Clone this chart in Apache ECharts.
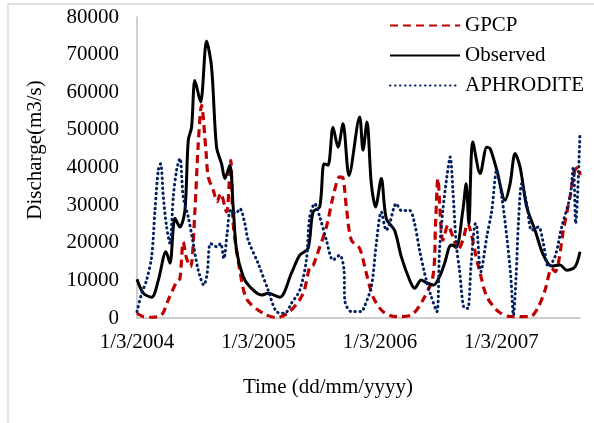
<!DOCTYPE html>
<html><head><meta charset="utf-8">
<script src="https://cdn.jsdelivr.net/npm/echarts@6/dist/echarts.min.js"></script>
<style>html,body{margin:0;padding:0;background:#fff}#c{width:594px;height:423px}</style>
</head><body><div id="c"></div>
<script>
const startDate = '2004-03-01';
const endDate = '2007-10-23';
const tickLabels = ['1/3/2004', '1/3/2005', '1/3/2006', '1/3/2007'];
const seriesNames = ['GPCP', 'Observed', 'APHRODITE'];

const obsDates = ['2004-03-01','2004-03-20','2004-04-14','2004-05-04','2004-05-27','2004-06-08','2004-06-23','2004-07-08','2004-07-23','2004-08-02','2004-08-12','2004-08-22','2004-09-08','2004-09-26','2004-10-11','2004-10-26','2004-11-10','2004-11-20','2004-12-05','2004-12-15','2004-12-25','2005-01-14','2005-02-03','2005-03-10','2005-03-30','2005-05-04','2005-06-08','2005-07-03','2005-07-28','2005-08-12','2005-09-01','2005-09-14','2005-09-26','2005-10-11','2005-10-26','2005-11-10','2005-11-28','2005-12-30','2006-01-09','2006-01-21','2006-02-03','2006-02-16','2006-03-05','2006-03-20','2006-04-14','2006-05-04','2006-05-29','2006-06-13','2006-07-03','2006-07-18','2006-08-09','2006-08-27','2006-09-11','2006-10-01','2006-10-16','2006-11-05','2006-11-15','2006-11-23','2006-12-05','2006-12-27','2007-01-16','2007-01-26','2007-02-15','2007-03-12','2007-03-27','2007-04-11','2007-04-26','2007-05-16','2007-06-10','2007-07-05','2007-07-30','2007-08-24','2007-09-13','2007-10-08','2007-10-23'];
const obsValues = [10300,6600,5500,10000,17600,14600,26500,24200,28600,47200,50700,63100,57400,73600,66700,45400,41000,37100,40600,29500,18000,11000,8300,6100,6550,5500,11900,16700,18500,28200,29500,41000,40600,50700,45400,51600,37900,53400,44600,52100,35700,29500,37100,26400,23300,16300,10100,7900,10100,9400,8750,11000,14500,19400,18900,28600,35700,25100,46800,38400,45400,45000,39300,31300,35700,43700,40100,29500,23300,16700,13800,14100,12700,13600,17600];

const gpcpDates = ['2004-03-01','2004-03-20','2004-04-14','2004-05-14','2004-06-03','2004-06-28','2004-07-08','2004-07-18','2004-07-28','2004-08-09','2004-08-22','2004-09-01','2004-09-11','2004-09-24','2004-10-01','2004-10-16','2004-10-28','2004-11-07','2004-11-25','2004-12-03','2004-12-08','2004-12-15','2005-01-04','2005-01-25','2005-03-14','2005-04-25','2005-06-03','2005-07-13','2005-08-02','2005-08-12','2005-08-22','2005-09-21','2005-10-11','2005-10-31','2005-11-10','2005-11-20','2005-12-05','2005-12-30','2006-01-19','2006-02-08','2006-03-10','2006-04-19','2006-06-03','2006-07-08','2006-08-07','2006-08-15','2006-08-22','2006-09-01','2006-09-06','2006-09-21','2006-10-06','2006-10-21','2006-11-05','2006-11-20','2006-11-30','2006-12-15','2006-12-27','2007-01-16','2007-02-20','2007-03-27','2007-05-26','2007-06-20','2007-07-10','2007-07-30','2007-08-09','2007-08-19','2007-09-03','2007-09-23','2007-10-08','2007-10-18','2007-10-23'];
const gpcpValues = [1250,350,200,800,4800,9600,10500,20200,15800,13600,28600,46300,56500,44600,37500,34000,30900,33100,28200,35700,41900,25100,12700,5000,1300,100,1700,6500,13600,14000,16300,24200,32200,37500,37200,29500,20700,18500,11900,5700,1700,350,800,4800,11000,25000,37000,23300,20700,24700,21600,18000,20700,25100,22500,16300,11900,5700,1700,400,350,3000,7400,13200,12300,14600,23300,32200,39300,40100,38000];

const aphDates = ['2004-03-01','2004-03-15','2004-03-30','2004-04-14','2004-04-24','2004-05-04','2004-05-11','2004-05-19','2004-05-29','2004-06-08','2004-06-18','2004-06-28','2004-07-08','2004-07-18','2004-08-02','2004-08-17','2004-09-01','2004-09-18','2004-09-28','2004-10-08','2004-10-28','2004-11-07','2004-11-17','2004-11-27','2004-12-07','2004-12-23','2005-01-04','2005-01-19','2005-01-29','2005-02-28','2005-03-30','2005-04-24','2005-05-19','2005-06-08','2005-07-03','2005-07-23','2005-08-02','2005-08-17','2005-09-01','2005-09-21','2005-10-11','2005-10-31','2005-11-13','2005-11-15','2005-12-05','2006-01-04','2006-01-09','2006-02-03','2006-02-18','2006-03-05','2006-03-20','2006-03-30','2006-04-19','2006-05-04','2006-05-29','2006-06-13','2006-06-28','2006-07-18','2006-08-02','2006-08-19','2006-08-27','2006-09-06','2006-09-18','2006-09-28','2006-10-06','2006-10-16','2006-10-26','2006-11-10','2006-11-20','2006-11-30','2006-12-13','2006-12-17','2006-12-29','2007-01-16','2007-01-31','2007-02-15','2007-03-02','2007-03-17','2007-03-29','2007-04-06','2007-04-14','2007-04-21','2007-05-01','2007-05-16','2007-05-31','2007-06-20','2007-07-05','2007-07-20','2007-08-09','2007-08-29','2007-09-23','2007-10-03','2007-10-10','2007-10-23'];
const aphValues = [1700,6500,10100,16300,28600,39300,41000,32200,24200,19800,32200,39300,42400,32200,26900,19800,12700,8750,11900,19800,18900,19800,15800,22500,28600,27800,29100,25100,20700,14500,7400,1700,1250,3900,7400,15400,26900,30400,26900,20700,15400,16700,12700,4800,1700,1700,2100,8300,19800,28200,23300,25100,30400,28600,28600,25100,18000,10100,5700,1700,18000,28600,37500,42800,34000,19800,12700,2600,2600,14500,25100,24200,12300,21600,28600,39300,32200,21600,11000,800,11000,25100,35700,30400,23300,24200,19800,13600,16300,24200,32200,40100,25100,49000];

const DAY = 86400000;
const t0 = Date.parse(startDate);
function dayOf(s) { return Math.round((Date.parse(s) - t0) / DAY); }
function pairs(d, v) { return d.map((s, i) => [dayOf(s), v[i]]); }

const FONT = "'Liberation Serif', 'Times New Roman', serif";
const chart = echarts.init(document.getElementById('c'), null, {renderer: 'canvas'});
chart.setOption({
  animation: false,
  backgroundColor: '#fff',
  grid: {left: 137, right: 14, top: 17, bottom: 105, containLabel: false},
  xAxis: {
    type: 'value', min: 0, max: dayOf(endDate), interval: 365,
    splitLine: {show: false},
    axisTick: {show: false},
    axisLine: {show: true, lineStyle: {color: '#BFBFBF', width: 1.5}},
    axisLabel: {
      showMaxLabel: false, margin: 14,
      fontFamily: FONT, fontSize: 21, color: '#000',
      formatter: v => (v % 365 === 0 && tickLabels[v / 365]) ? tickLabels[v / 365] : ''
    }
  },
  yAxis: {
    type: 'value', min: 0, max: 80000, interval: 10000,
    splitLine: {show: false},
    axisTick: {show: false},
    axisLine: {show: true, lineStyle: {color: '#BFBFBF', width: 1.5}},
    axisLabel: {margin: 18, fontFamily: FONT, fontSize: 21, color: '#000', formatter: v => String(v)}
  },
  legend: {
    data: seriesNames, orient: 'vertical', left: 384, top: 10,
    itemWidth: 70, itemHeight: 14, itemGap: 9,
    itemStyle: {opacity: 0},
    textStyle: {fontFamily: FONT, fontSize: 21, color: '#000', lineHeight: 21}
  },
  graphic: [
    {type: 'rect', silent: true, z: -1, shape: {x: 8, y: 4, width: 620, height: 440},
     style: {fill: 'none', stroke: '#D9D9D9', lineWidth: 1.5}},
    {type: 'text', x: 328, y: 387, style: {text: 'Time (dd/mm/yyyy)', font: "21px 'Liberation Serif'", fill: '#000', align: 'center', verticalAlign: 'middle'}},
    {type: 'text', x: 35, y: 150, rotation: Math.PI / 2, style: {text: 'Discharge(m3/s)', font: "21px 'Liberation Serif'", fill: '#000', align: 'center', verticalAlign: 'middle'}}
  ],
  series: [
    {name: seriesNames[0], type: 'line', data: pairs(gpcpDates, gpcpValues), symbol: 'none', smooth: 0.3,
     lineStyle: {color: '#C00000', width: 3.2, type: [8, 5]}, itemStyle: {color: '#C00000'}},
    {name: seriesNames[1], type: 'line', data: pairs(obsDates, obsValues), symbol: 'none', smooth: 0.3,
     lineStyle: {color: '#000000', width: 3, type: 'solid'}, itemStyle: {color: '#000000'}},
    {name: seriesNames[2], type: 'line', data: pairs(aphDates, aphValues), symbol: 'none', smooth: 0.3,
     lineStyle: {color: '#002060', width: 3, type: [0.5, 4.5], cap: 'round'}, itemStyle: {color: '#002060'}}
  ]
});
</script>
</body></html>
